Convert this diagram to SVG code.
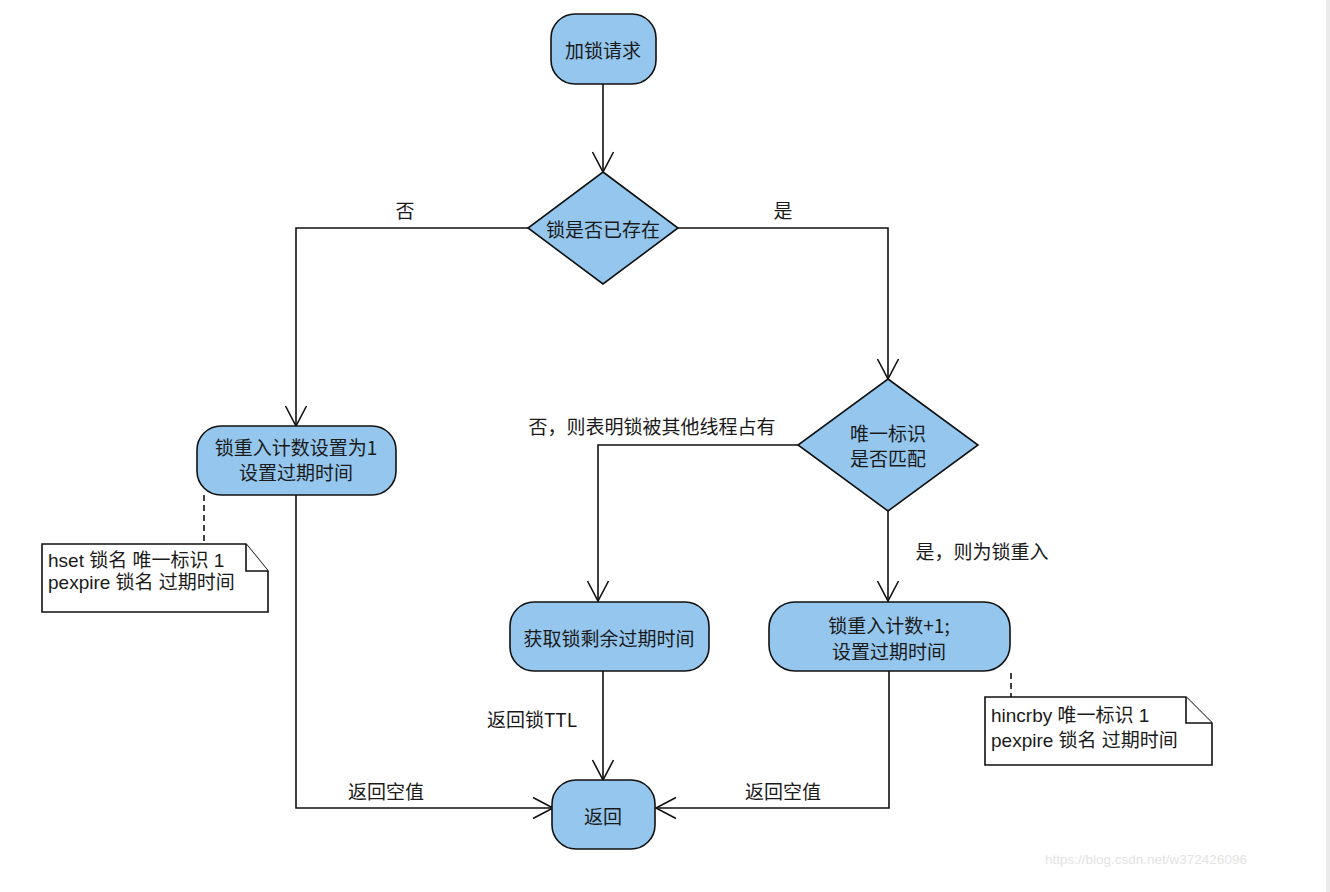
<svg xmlns="http://www.w3.org/2000/svg" width="1330" height="892" viewBox="0 0 1330 892">
<style>
.n{fill:#94c6ee;stroke:#111;stroke-width:1.6}
.note{fill:#fff;stroke:#111;stroke-width:1.6}
.t{font-family:"Noto Sans CJK SC","Liberation Sans",sans-serif;font-size:19px;fill:#1a1a1a;text-anchor:middle;dominant-baseline:central}
.nt{font-family:"Liberation Sans","Noto Sans CJK SC",sans-serif;font-size:19px;fill:#1a1a1a}
.l{fill:none;stroke:#111;stroke-width:1.6}
.d{fill:none;stroke:#111;stroke-width:1.6;stroke-dasharray:6,4}
</style>
<defs>
<marker id="a" viewBox="-22 -12 24 24" refX="0" refY="0" markerWidth="24" markerHeight="24" markerUnits="userSpaceOnUse" orient="auto">
<path d="M-20,-10.5 L0,0 L-20,10.5" fill="none" stroke="#111" stroke-width="1.6"/>
</marker>
</defs>
<rect width="1330" height="892" fill="#fff"/>
<rect x="1326" y="0" width="4" height="892" fill="#ebebeb"/>
<g id="connectors">
<path class="l" d="M603,84 V172" marker-end="url(#a)"/>
<path class="l" d="M528,228 H296 V426" marker-end="url(#a)"/>
<path class="l" d="M678,228 H888 V379" marker-end="url(#a)"/>
<path class="l" d="M798,445 H598 V601" marker-end="url(#a)"/>
<path class="l" d="M888,511 V601" marker-end="url(#a)"/>
<path class="l" d="M296,495 V808 H553" marker-end="url(#a)"/>
<path class="l" d="M603,671 V780" marker-end="url(#a)"/>
<path class="l" d="M889,671 V808 H656" marker-end="url(#a)"/>
<path class="d" d="M204,495 V544"/>
<path class="d" d="M1011,673 V697"/>
<text class="t" x="405" y="209">否</text>
<text class="t" x="783" y="209">是</text>
<text class="t" x="652" y="425">否，则表明锁被其他线程占有</text>
<text class="t" x="982" y="550">是，则为锁重入</text>
<text class="t" x="532" y="718">返回锁TTL</text>
<text class="t" x="386" y="790">返回空值</text>
<text class="t" x="783" y="790">返回空值</text>
</g>
<g id="start">
<rect class="n" x="551" y="14" width="105" height="70" rx="24"/>
<text class="t" x="603" y="49">加锁请求</text>
</g>
<g id="exists">
<path class="n" d="M603,172 L678,228 L603,284 L528,228 Z"/>
<text class="t" x="603" y="228">锁是否已存在</text>
</g>
<g id="set1">
<rect class="n" x="197" y="426" width="199" height="69" rx="24"/>
<text class="t" x="296" y="446">锁重入计数设置为1</text>
<text class="t" x="296" y="471">设置过期时间</text>
</g>
<g id="match">
<path class="n" d="M888,379 L978,445 L888,511 L798,445 Z"/>
<text class="t" x="888" y="432">唯一标识</text>
<text class="t" x="888" y="457">是否匹配</text>
</g>
<g id="ttl">
<rect class="n" x="510" y="602" width="199" height="69" rx="24"/>
<text class="t" x="609" y="637">获取锁剩余过期时间</text>
</g>
<g id="incr">
<rect class="n" x="769" y="602" width="241" height="69" rx="26"/>
<text class="t" x="889" y="624">锁重入计数+1;</text>
<text class="t" x="889" y="650">设置过期时间</text>
</g>
<g id="ret">
<rect class="n" x="552" y="780" width="103" height="69" rx="24"/>
<text class="t" x="603" y="815">返回</text>
</g>
<g id="note1">
<path class="note" d="M42,544 H246 L268,571 V612 H42 Z"/>
<path class="note" d="M246,544 V571 H268"/>
<text class="nt" x="48" y="567">hset 锁名 唯一标识 1</text>
<text class="nt" x="48" y="589">pexpire 锁名 过期时间</text>
</g>
<g id="note2">
<path class="note" d="M985,697 H1186 L1212,723 V765 H985 Z"/>
<path class="note" d="M1186,697 V723 H1212"/>
<text class="nt" x="991" y="722">hincrby 唯一标识 1</text>
<text class="nt" x="991" y="747">pexpire 锁名 过期时间</text>
</g>
<text x="1045" y="864" font-family="Liberation Sans,sans-serif" font-size="13.5" fill="#e3e3e3">https://blog.csdn.net/w372426096</text>
</svg>
